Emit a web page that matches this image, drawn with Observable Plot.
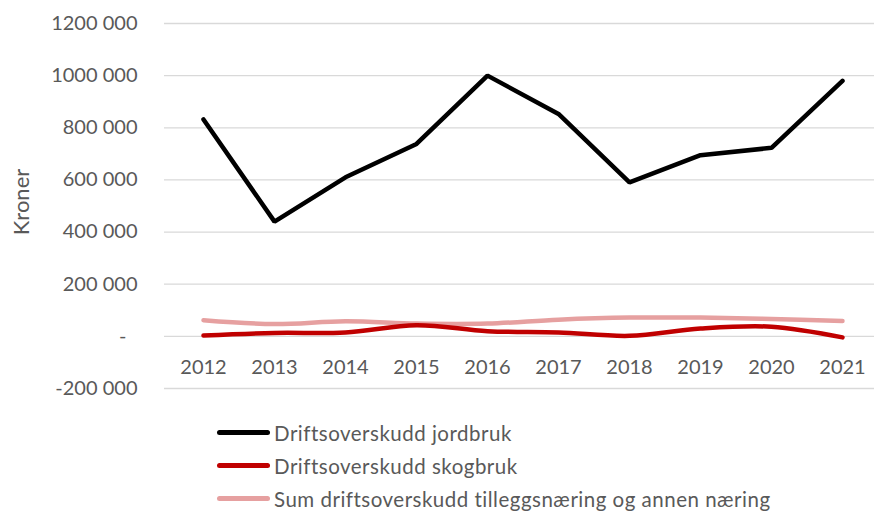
<!DOCTYPE html>
<html>
<head>
<meta charset="utf-8">
<script src="https://cdn.jsdelivr.net/npm/d3@7"></script>
<script src="https://cdn.jsdelivr.net/npm/@observablehq/plot@0.6"></script>
<style>
  html, body { margin: 0; padding: 0; background: #fff; }
  body { width: 874px; height: 511px; overflow: hidden; font-family: Lato, "Open Sans", sans-serif; }
  #legend { position: relative; margin-top: 16px; }
  .item { display: flex; align-items: center; height: 33px; margin-left: 217px; font-size: 20.5px; letter-spacing: 0.5px; color: #595959; }
  .sw { width: 53px; height: 5px; border-radius: 3px; margin-right: 4px; }
</style>
</head>
<body>
<div id="chart"></div>
<div id="legend"></div>
<script>
const years = [2012, 2013, 2014, 2015, 2016, 2017, 2018, 2019, 2020, 2021];
const jordbruk = [832000, 440000, 610000, 738000, 1000000, 853000, 591000, 695000, 723000, 980000];
const skogbruk = [3000, 13000, 15000, 43000, 20000, 15000, 2000, 30000, 37000, -4000];
const tillegg = [62000, 47000, 58000, 49000, 49000, 64000, 72000, 72000, 67000, 59000];
const seriesNames = ["Driftsoverskudd jordbruk", "Driftsoverskudd skogbruk", "Sum driftsoverskudd tilleggsnæring og annen næring"];
const seriesColors = ["#000000", "#c00000", "#e6a0a0"];
const yTicks = [-200000, 200000, 400000, 600000, 800000, 1000000, 1200000];
const yLabel = "Kroner";

const rows = (vals, s) => years.map((y, i) => ({year: y, value: vals[i], series: s}));
const dJ = rows(jordbruk, seriesNames[0]);
const dS = rows(skogbruk, seriesNames[1]);
const dT = rows(tillegg, seriesNames[2]);

const fmt = v => {
  const s = Math.abs(v).toString();
  const head = s.slice(0, s.length - 3), tail = s.slice(-3);
  return (v < 0 ? "-" : "") + head + " " + tail;
};

const font = "Lato, 'Open Sans', sans-serif";
const chart = Plot.plot({
  width: 874,
  height: 400,
  marginTop: 23,
  marginBottom: 12,
  marginLeft: 164,
  marginRight: 0,
  style: {fontFamily: font, fontSize: "20px", color: "#595959", background: "#fff"},
  x: {type: "point", domain: years, range: [200, 845], padding: 0, axis: null},
  y: {domain: [-200000, 1200000], axis: null},
  marks: [
    Plot.ruleY([...yTicks, 0], {stroke: "#d9d9d9", strokeWidth: 1.3}),
    Plot.axisY(yTicks, {tickSize: 0, tickPadding: 27, tickFormat: fmt, fill: "#595959", label: null}),
    Plot.axisY([0], {tickSize: 0, tickPadding: 38, tickFormat: () => "-", fill: "#595959", label: null}),
    Plot.text([yLabel], {frameAnchor: "left", textAnchor: "middle", rotate: -90, dx: -143, dy: -4, text: d => d, fill: "#595959", fontSize: 22}),
    Plot.text(years, {x: d => d, y: () => 0, dy: 31, text: d => String(d), fill: "#595959"}),
    Plot.line(dT, {x: "year", y: "value", stroke: seriesColors[2], strokeWidth: 4.5, curve: "catmull-rom"}),
    Plot.line(dS, {x: "year", y: "value", stroke: seriesColors[1], strokeWidth: 4.5, curve: "catmull-rom"}),
    Plot.line(dJ, {x: "year", y: "value", stroke: seriesColors[0], strokeWidth: 4.5, strokeLinejoin: "miter"})
  ]
});
document.getElementById("chart").appendChild(chart);

const leg = document.getElementById("legend");
seriesNames.forEach((n, i) => {
  const it = document.createElement("div");
  it.className = "item";
  const sw = document.createElement("div");
  sw.className = "sw";
  sw.style.background = seriesColors[i];
  const t = document.createElement("span");
  t.textContent = n;
  it.appendChild(sw);
  it.appendChild(t);
  leg.appendChild(it);
});
</script>
</body>
</html>
